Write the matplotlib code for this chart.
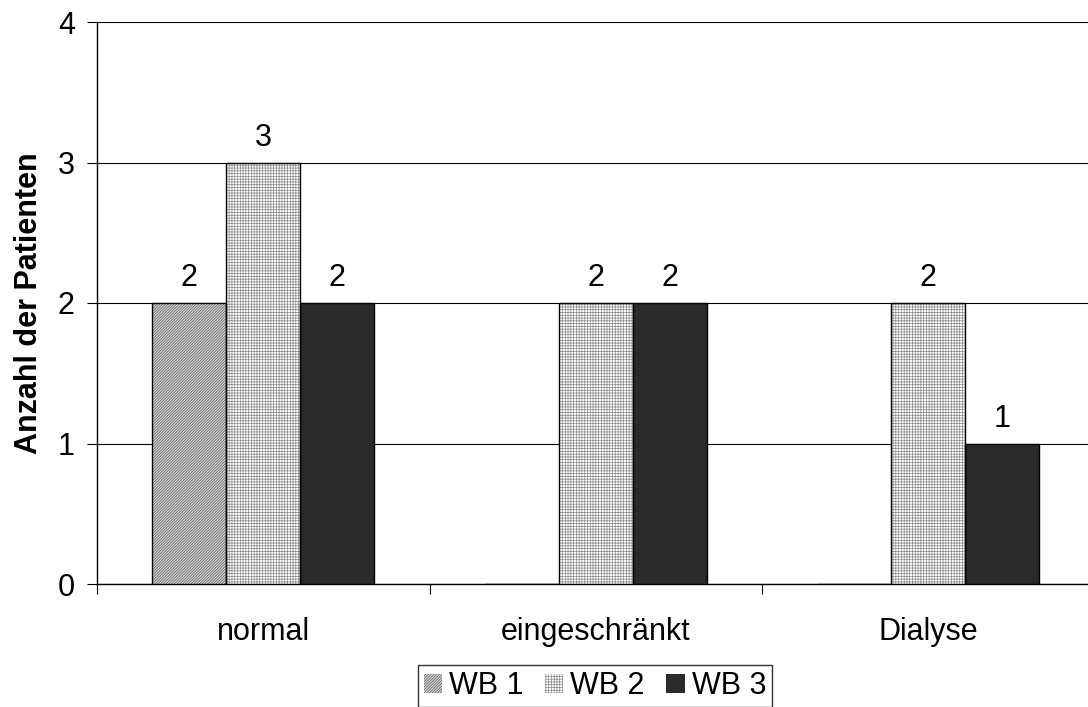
import matplotlib
matplotlib.use("Agg")
import matplotlib.pyplot as plt
import numpy as np
from matplotlib.patches import Patch

plt.rcParams['font.family'] = ['Liberation Sans', 'DejaVu Sans']
plt.rcParams['hatch.linewidth'] = 0.5

categories = ["normal", "eingeschränkt", "Dialyse"]
series_names = ["WB 1", "WB 2", "WB 3"]
wb1 = [2, 0, 0]
wb2 = [3, 2, 2]
wb3 = [2, 2, 1]
series_values = [wb1, wb2, wb3]
y_ticks = [0, 1, 2, 3, 4]

faces = ['#d8d8d8', 'white', '#2a2a2a']
hatch_cols = ['#555555', '#8a8a8a', '#444444']
hatches = ['////////////', '++++++', None]

FS = 22

fig = plt.figure(figsize=(10.88, 7.07), dpi=100)
ax = fig.add_axes([97/1088, 1 - 584/707, (1094.5 - 97)/1088, (584 - 22)/707])

x = np.arange(len(categories))
width = 0.2226
for i, vals in enumerate(series_values):
    pos = x + (i - 1) * width
    ax.bar(pos, vals, width, color=faces[i], hatch=hatches[i], edgecolor=hatch_cols[i],
           linewidth=0, zorder=3)
    ax.bar(pos, vals, width, fill=False, edgecolor='black', linewidth=1.0, zorder=4)
    for p, v in zip(pos, vals):
        if v > 0:
            ax.text(p, v + 0.07, str(v), ha='center', va='bottom', fontsize=FS, zorder=5)

ax.set_xlim(-0.5, len(categories) - 0.5)
ax.set_ylim(0, 4)
ax.set_yticks(y_ticks)
ax.set_yticklabels([str(t) for t in y_ticks], fontsize=FS)
ax.yaxis.grid(True, color='black', linewidth=0.8, zorder=0)
ax.set_axisbelow(True)

ax.set_xticks(np.arange(len(categories) + 1) - 0.5)
ax.set_xticklabels([])
ax.set_xticks(x, minor=True)
ax.set_xticklabels(categories, minor=True, fontsize=FS)
ax.tick_params(axis='x', which='minor', length=0, pad=24)
ax.tick_params(axis='x', which='major', length=7, direction='out')
ax.tick_params(axis='y', length=7, direction='out', pad=9)

for s in ['top', 'right']:
    ax.spines[s].set_visible(False)
ax.spines['left'].set_linewidth(1.0)
ax.spines['bottom'].set_linewidth(1.0)

ax.set_ylabel("Anzahl der Patienten", fontsize=FS, fontweight='bold', labelpad=10)

handles = [Patch(facecolor=faces[i], hatch=hatches[i], edgecolor=hatch_cols[i], linewidth=0)
           for i in range(3)]
leg = fig.legend(handles, series_names, loc='center', bbox_to_anchor=(595/1088, 1 - 686/707),
                 ncol=3, fontsize=FS, frameon=True, fancybox=False, edgecolor='black',
                 handlelength=0.6, handleheight=0.6, handletextpad=0.23, columnspacing=0.7,
                 borderpad=0.2, borderaxespad=0)
leg.get_frame().set_linewidth(1.0)

fig.savefig("out.png", dpi=100)
